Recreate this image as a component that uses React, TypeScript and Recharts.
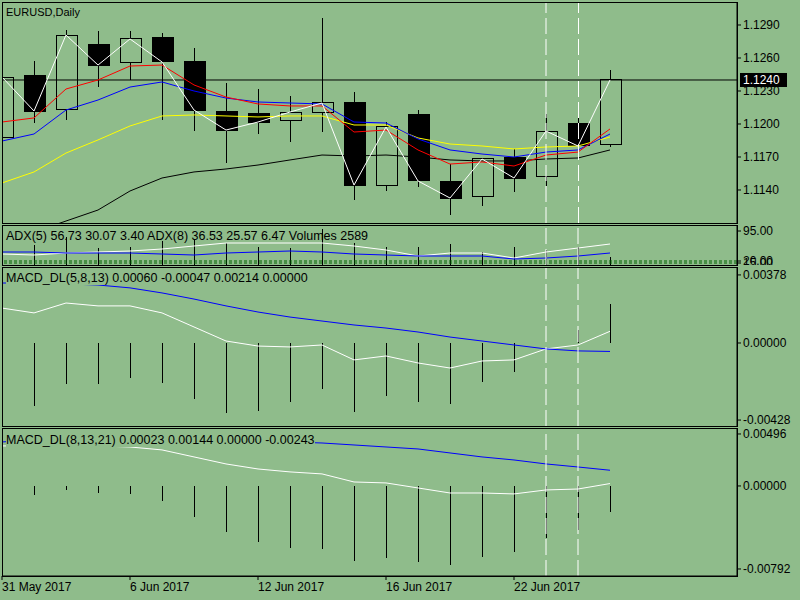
import React from 'react';
import { ComposedChart, Bar, Line, XAxis, YAxis, ReferenceLine } from 'recharts';

const BG = '#8FBC8B';
const FONT = '"Liberation Sans", Arial, Helvetica, sans-serif';
const W = 800;
const AXIS_W = 63;
const BAR_STEP = 32;
const X_DOMAIN: [number, number] = [0, 735 / BAR_STEP];

// daily bars, EURUSD
const dates = [
    '31 May 2017', '1 Jun 2017', '2 Jun 2017', '5 Jun 2017', '6 Jun 2017', '7 Jun 2017', '8 Jun 2017',
    '9 Jun 2017', '12 Jun 2017', '13 Jun 2017', '14 Jun 2017', '15 Jun 2017', '16 Jun 2017', '19 Jun 2017',
    '20 Jun 2017', '21 Jun 2017', '22 Jun 2017', '23 Jun 2017', '26 Jun 2017', '27 Jun 2017',
];
const open = [1.11873, 1.12445, 1.12136, 1.12727, 1.12555, 1.12782, 1.12564, 1.12118, 1.12091, 1.12036,
    1.12109, 1.12191, 1.11445, 1.12082, 1.11473, 1.11345, 1.11691, 1.11527, 1.12009, 1.11818];
const high = [1.12450, 1.12573, 1.12855, 1.12845, 1.12845, 1.12827, 1.12691, 1.12373, 1.12318, 1.12255,
    1.12964, 1.12291, 1.12018, 1.12127, 1.11636, 1.11682, 1.11773, 1.12091, 1.12200, 1.12491];
const low = [1.11850, 1.12009, 1.12036, 1.12336, 1.12400, 1.12036, 1.11936, 1.11645, 1.11909, 1.11836,
    1.11927, 1.11309, 1.11391, 1.11427, 1.11173, 1.11255, 1.11382, 1.11436, 1.11718, 1.11791];
const close = [1.12427, 1.12118, 1.12809, 1.12536, 1.12773, 1.12564, 1.12127, 1.11945, 1.12018, 1.12109,
    1.12191, 1.11445, 1.11973, 1.11482, 1.11327, 1.11682, 1.11509, 1.11936, 1.11800, 1.12400];

// moving averages
const maRed = [1.12018, 1.12055, 1.12318, 1.12400, 1.12527, 1.12536, 1.12355, 1.12245, 1.12182, 1.12164,
    1.12164, 1.11927, 1.11945, 1.11764, 1.11636, 1.11655, 1.11618, 1.11718, 1.11745, 1.11955];
const maBlue = [1.11845, 1.11909, 1.12127, 1.12218, 1.12336, 1.12382, 1.12300, 1.12236, 1.12200, 1.12191,
    1.12182, 1.12018, 1.12009, 1.11864, 1.11764, 1.11727, 1.11700, 1.11745, 1.11764, 1.11909];
const maYellow = [1.11464, 1.11564, 1.11736, 1.11855, 1.11982, 1.12073, 1.12082, 1.12073, 1.12064, 1.12073,
    1.12073, 1.11991, 1.11991, 1.11873, 1.11818, 1.11800, 1.11773, 1.11791, 1.11800, 1.11882];
const maBlack = [null, 1.11018, 1.11118, 1.11218, 1.11391, 1.11509, 1.11564, 1.11591, 1.11627, 1.11673,
    1.11718, 1.11709, 1.11718, 1.11700, 1.11673, 1.11664, 1.11664, 1.11682, 1.11691, 1.11764];

const priceTicks = [1.129, 1.126, 1.123, 1.12, 1.117, 1.114];
const lastPrice = 1.124;

// ADX + volumes pane
const adxMain = [37.5, 35, 40, 42.5, 45, 50, 57.5, 65, 65, 65, 65, 57.5, 47.5, 32.5, 40, 40, 27.5, 42.5, 52.5, 62.5];
const adxDi = [42.5, 42.5, 40, 40, 40, 37.5, 35, 40, 42.5, 45, 42.5, 37.5, 35, 32.5, 32.5, 32.5, 25, 27.5, 32.5, 40];
const volumes = [6000, 6460, 8800, 5490, 5810, 7570, 7890, 6940, 5680, 5360, 11350, 6940, 5680, 5680, 6620,
    4100, 5680, 4730, 5680, 2589];
const adxTicks = [95, 20, 15];
const adxLevels = [20, 15];

// MACD_DL(5,8,13)
const macd1Main = [0.00194, 0.00167, 0.00222, 0.00206, 0.00206, 0.00167, 0.00089, 0.00011, -0.00017, -0.00022,
    -0.00011, -0.00094, -0.00072, -0.00111, -0.00139, -0.001, -0.00094, -0.00033, -0.00011, 0.00065];
const macd1Signal = [0.00333, 0.00333, 0.00328, 0.00322, 0.00306, 0.00278, 0.00244, 0.00206, 0.00172, 0.00144,
    0.00122, 0.001, 0.00083, 0.00061, 0.00033, 0.00011, -0.00011, -0.00033, -0.00044, -0.00047];
const macd1Hist = [-0.003, -0.0035, -0.00228, -0.00228, -0.00194, -0.00222, -0.00311, -0.00389, -0.00378, -0.00328,
    -0.00256, -0.00383, -0.00294, -0.00328, -0.00339, -0.00217, -0.00161, 0, 0.00072, 0.00214];
const macd1Ticks = [0.00378, 0, -0.00428];

// MACD_DL(8,13,21)
const macd2Main = [0.00382, 0.00382, 0.00382, 0.00382, 0.00372, 0.00344, 0.00277, 0.0021, 0.00162, 0.00134,
    0.00115, 0.00038, 0.00029, -0.00019, -0.00067, -0.00067, -0.00076, -0.00038, -0.00029, 0.00023];
const macd2Signal = [0.0042, 0.00439, 0.00448, 0.00458, 0.00458, 0.00458, 0.00448, 0.00439, 0.00429, 0.0042,
    0.0041, 0.00391, 0.00372, 0.00353, 0.00315, 0.00277, 0.00248, 0.0021, 0.00181, 0.0015];
const macd2Hist = [-0.0005, -0.00086, -0.00038, -0.00067, -0.00076, -0.00143, -0.00296, -0.00439, -0.00534, -0.00592,
    -0.00601, -0.00716, -0.00687, -0.00725, -0.00754, -0.00677, -0.0063, -0.00496, -0.0042, -0.0025];
const macd2Ticks = [0.00496, 0, -0.00792];

const dateTicks = [0, 4, 8, 12, 16];
const markedBars = [17, 18];

const rows = dates.map((date, i) => ({
    i,
    date,
    open: open[i],
    high: high[i],
    low: low[i],
    close: close[i],
    range: [low[i], high[i]],
    maRed: maRed[i],
    maBlue: maBlue[i],
    maYellow: maYellow[i],
    maBlack: maBlack[i],
    adxMain: adxMain[i],
    adxDi: adxDi[i],
    volume: volumes[i],
    macd1Main: macd1Main[i],
    macd1Signal: macd1Signal[i],
    macd1Hist: macd1Hist[i],
    macd2Main: macd2Main[i],
    macd2Signal: macd2Signal[i],
    macd2Hist: macd2Hist[i],
}));

const tickStyle = { fill: '#000', fontSize: 12, fontFamily: FONT };
const DASH = '16 5';

const Candle = (props: any) => {
    const { x, y, width, height, payload } = props;
    const top0 = Math.min(y, y + height);
    const h = Math.abs(height);
    const py = (v: number) => top0 + ((payload.high - v) / (payload.high - payload.low)) * h;
    const cx = Math.round(x + width / 2) + 0.5;
    const bodyTop = py(Math.max(payload.open, payload.close));
    const bodyBot = py(Math.min(payload.open, payload.close));
    const bull = payload.close >= payload.open;
    return (
        <g shapeRendering="crispEdges">
            <line x1={cx} x2={cx} y1={py(payload.high)} y2={py(payload.low)} stroke="#000" />
            <rect x={cx - 10.5} y={bodyTop} width={21} height={Math.max(1, bodyBot - bodyTop)}
                fill={bull ? BG : '#000'} stroke="#000" />
        </g>
    );
};

const Stick = (props: any) => {
    const { x, y, width, height } = props;
    const cx = Math.round(x + width / 2) + 0.5;
    return <line x1={cx} x2={cx} y1={y} y2={y + height} stroke="#000" shapeRendering="crispEdges" />;
};

const PriceTag = (props: any) => {
    const { viewBox } = props;
    if (!viewBox) return null;
    const x = viewBox.x + viewBox.width + 3;
    const y = viewBox.y;
    return (
        <g>
            <rect x={x} y={y - 7} width={47} height={14} fill="#000" />
            <text x={x + 3} y={y} dy="0.355em" fill="#fff" fontSize={12} fontFamily={FONT}>
                {lastPrice.toFixed(4)}
            </text>
        </g>
    );
};

// selected vertical line with small handles at both ends
const HandleLine = (props: any) => {
    const { x1, y1, y2 } = props;
    const x = Math.round(x1) + 0.5;
    return (
        <g shapeRendering="crispEdges">
            <line x1={x} x2={x} y1={y1} y2={y2} stroke="#fff" strokeDasharray={DASH} />
            <rect x={x - 2} y={y1 + 1} width={4} height={4} fill="#fff" stroke="#000" />
            <rect x={x - 2} y={y2 - 5} width={4} height={4} fill="#fff" stroke="#000" />
        </g>
    );
};

const DateTick = (props: any) => {
    const { x, y, payload } = props;
    return (
        <text x={x} y={y} dy="0.71em" textAnchor="start" fill="#000" fontSize={12} fontFamily={FONT}>
            {dates[payload.value]}
        </text>
    );
};

const frame = (top: number, height: number): React.CSSProperties => ({
    position: 'absolute',
    left: 2,
    top,
    width: 736,
    height,
    boxSizing: 'border-box',
    border: '1px solid #000',
    pointerEvents: 'none',
});

// indicator labels are painted on a box of the pane colour, like the terminal does
const header = (top: number, size = 12.5): React.CSSProperties => ({
    position: 'absolute',
    left: 6,
    top,
    font: `${size}px ${FONT}`,
    lineHeight: '14px',
    color: '#000',
    background: BG,
    whiteSpace: 'nowrap',
    pointerEvents: 'none',
});

const paneStyle = (top: number): React.CSSProperties => ({ position: 'absolute', left: 0, top });

export default function App() {
    return (
        <div style={{ position: 'fixed', left: 0, top: 0, width: W, height: 600, background: BG, overflow: 'hidden' }}>
            {/* ADX label sits under the volume sticks */}
            <div style={header(229)}>ADX(5) 56.73 30.07 3.40 ADX(8) 36.53 25.57 6.47 Volumes 2589</div>

            {/* price pane */}
            <div style={paneStyle(2)}>
                <ComposedChart width={W} height={221} data={rows} margin={{ top: 0, right: 0, bottom: 0, left: 2 }}>
                    <XAxis dataKey="i" type="number" domain={X_DOMAIN} allowDataOverflow hide />
                    <YAxis orientation="right" width={AXIS_W} domain={[1.111, 1.13109]} allowDataOverflow
                        ticks={priceTicks} interval={0} tickFormatter={(v: number) => v.toFixed(4)}
                        tick={tickStyle} tickSize={4} tickLine={{ stroke: '#000' }} axisLine={{ stroke: '#000' }} />
                    <ReferenceLine y={lastPrice} stroke="#000" label={<PriceTag />} />
                    <Line dataKey="maBlack" stroke="#000" dot={false} isAnimationActive={false} />
                    <Line dataKey="maYellow" stroke="#FFFF00" dot={false} isAnimationActive={false} />
                    <Bar dataKey="range" barSize={22} shape={<Candle />} isAnimationActive={false} />
                    <Line dataKey="maBlue" stroke="#0000FF" dot={false} isAnimationActive={false} />
                    <Line dataKey="maRed" stroke="#FF0000" dot={false} isAnimationActive={false} />
                    <Line dataKey="close" stroke="#FFFFFF" dot={false} isAnimationActive={false} />
                    <ReferenceLine x={markedBars[0]} stroke="#fff" strokeDasharray={DASH} />
                    <ReferenceLine x={markedBars[1]} stroke="#fff" shape={<HandleLine />} />
                </ComposedChart>
            </div>

            {/* ADX + volumes pane */}
            <div style={paneStyle(226)}>
                <ComposedChart width={W} height={39} data={rows} margin={{ top: 0, right: 0, bottom: 0, left: 2 }}>
                    <XAxis dataKey="i" type="number" domain={X_DOMAIN} allowDataOverflow hide />
                    <YAxis yAxisId="adx" orientation="right" width={AXIS_W} domain={[10, 107.5]}
                        ticks={adxTicks} interval={0} tickFormatter={(v: number) => v.toFixed(2)}
                        tick={tickStyle} tickSize={4} tickLine={{ stroke: '#000' }} axisLine={{ stroke: '#000' }} />
                    <YAxis yAxisId="vol" hide domain={[0, 12300]} />
                    {adxLevels.map((lv) => (
                        <ReferenceLine key={lv} yAxisId="adx" y={lv} stroke="#006400" strokeDasharray="3 2" />
                    ))}
                    <Bar yAxisId="vol" dataKey="volume" barSize={1} shape={<Stick />} isAnimationActive={false} />
                    <Line yAxisId="adx" dataKey="adxMain" stroke="#FFFFFF" dot={false} isAnimationActive={false} />
                    <Line yAxisId="adx" dataKey="adxDi" stroke="#0000FF" dot={false} isAnimationActive={false} />
                    {markedBars.map((b) => (
                        <ReferenceLine key={b} yAxisId="adx" x={b} stroke="#fff" strokeDasharray={DASH} />
                    ))}
                </ComposedChart>
            </div>

            {/* MACD_DL(5,8,13) */}
            <div style={paneStyle(267)}>
                <ComposedChart width={W} height={159} data={rows} margin={{ top: 0, right: 0, bottom: 0, left: 2 }}>
                    <XAxis dataKey="i" type="number" domain={X_DOMAIN} allowDataOverflow hide />
                    <YAxis orientation="right" width={AXIS_W} domain={[-0.00461, 0.00422]}
                        ticks={macd1Ticks} interval={0} tickFormatter={(v: number) => v.toFixed(5)}
                        tick={tickStyle} tickSize={4} tickLine={{ stroke: '#000' }} axisLine={{ stroke: '#000' }} />
                    <Bar dataKey="macd1Hist" barSize={1} shape={<Stick />} isAnimationActive={false} />
                    <Line dataKey="macd1Main" stroke="#FFFFFF" dot={false} isAnimationActive={false} />
                    <Line dataKey="macd1Signal" stroke="#0000FF" dot={false} isAnimationActive={false} />
                    {markedBars.map((b) => (
                        <ReferenceLine key={b} x={b} stroke="#fff" strokeDasharray={DASH} />
                    ))}
                </ComposedChart>
            </div>

            {/* MACD_DL(8,13,21) + date axis */}
            <div style={paneStyle(428)}>
                <ComposedChart width={W} height={172} data={rows} margin={{ top: 0, right: 0, bottom: 0, left: 2 }}>
                    <XAxis dataKey="i" type="number" domain={X_DOMAIN} allowDataOverflow height={24}
                        ticks={dateTicks} interval={0} tick={<DateTick />} tickSize={4}
                        tickLine={{ stroke: '#000' }} axisLine={{ stroke: '#000' }} />
                    <YAxis orientation="right" width={AXIS_W} domain={[-0.00859, 0.00553]}
                        ticks={macd2Ticks} interval={0} tickFormatter={(v: number) => v.toFixed(5)}
                        tick={tickStyle} tickSize={4} tickLine={{ stroke: '#000' }} axisLine={{ stroke: '#000' }} />
                    <Bar dataKey="macd2Hist" barSize={1} shape={<Stick />} isAnimationActive={false} />
                    <Line dataKey="macd2Main" stroke="#FFFFFF" dot={false} isAnimationActive={false} />
                    <Line dataKey="macd2Signal" stroke="#0000FF" dot={false} isAnimationActive={false} />
                    {markedBars.map((b) => (
                        <ReferenceLine key={b} x={b} stroke="#fff" strokeDasharray={DASH} />
                    ))}
                </ComposedChart>
            </div>

            <div style={frame(2, 222)} />
            <div style={frame(225, 41)} />
            <div style={frame(267, 160)} />
            <div style={frame(428, 149)} />

            <div style={header(5, 11)}>EURUSD,Daily</div>
            <div style={header(271)}>MACD_DL(5,8,13) 0.00060 -0.00047 0.00214 0.00000</div>
            <div style={header(433)}>MACD_DL(8,13,21) 0.00023 0.00144 0.00000 -0.00243</div>
        </div>
    );
}
